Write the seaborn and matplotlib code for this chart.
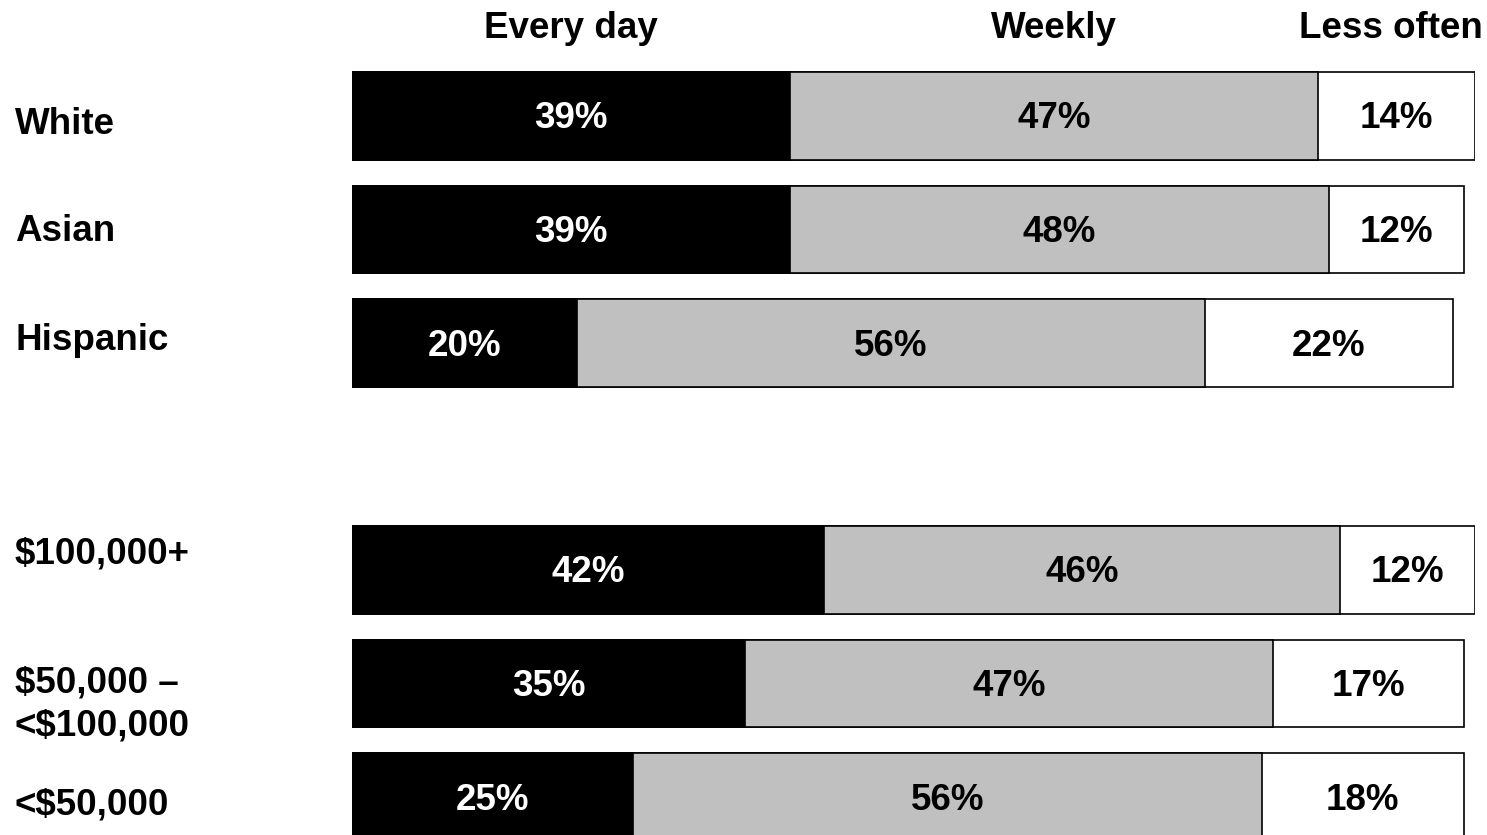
import numpy as np
import pandas as pd
import seaborn as sns
import matplotlib.pyplot as plt
from matplotlib import transforms

# data
groups = ["White", "Asian", "Hispanic", "$100,000+", "$50,000 –\n<$100,000", "<$50,000"]
every_day = [39, 39, 20, 42, 35, 25]
weekly = [47, 48, 56, 46, 47, 56]
less_often = [14, 12, 22, 12, 17, 18]
headers = ["Every day", "Weekly", "Less often"]

# positions with a gap between race and income groups
pos = [0, 1, 2, 4, 5, 6]

df = pd.DataFrame({"group": groups, "pos": pos,
                   "every": every_day, "weekly": weekly, "less": less_often})
df["cum1"] = df["every"]
df["cum2"] = df["every"] + df["weekly"]
df["cum3"] = df["cum2"] + df["less"]

sns.set_style("white")
plt.rcParams["font.family"] = ["Liberation Sans", "DejaVu Sans"]
plt.rcParams["font.weight"] = "bold"
plt.rcParams["text.color"] = "black"

W, H = 1487, 835
fig = plt.figure(figsize=(W / 100, H / 100), dpi=100)
ax = fig.add_axes([352 / W, 0, (1475 - 352) / W, (835 - 60) / H])

bw = 0.775
for col, color in [("cum3", "white"), ("cum2", "#c0c0c0"), ("cum1", "black")]:
    sns.barplot(data=df, x=col, y="pos", orient="h", native_scale=True,
                width=bw, color=color, edgecolor="black", linewidth=1.2,
                saturation=1, ax=ax)

unit = 113.5  # pixels per row
ax.set_xlim(0, 100)
ax.set_ylim((835 - 116) / unit, (60 - 116) / unit)
ax.axis("off")

fs = 26.5
dy = 3 / unit
for _, r in df.iterrows():
    y = r["pos"] + dy
    ax.text(r["every"] / 2, y, f"{r['every']}%", ha="center", va="center",
            color="white", fontsize=fs, fontweight="bold")
    ax.text(r["every"] + r["weekly"] / 2, y, f"{r['weekly']}%", ha="center",
            va="center", color="black", fontsize=fs, fontweight="bold")
    ax.text(r["cum2"] + r["less"] / 2, y, f"{r['less']}%", ha="center",
            va="center", color="black", fontsize=fs, fontweight="bold")

# row labels on the left (small nudges in pixels to match the original slide)
nudge = [8, 2, -3, -16, 21, 8]
trans = transforms.blended_transform_factory(fig.transFigure, ax.transData)
for (_, r), n in zip(df.iterrows(), nudge):
    ax.text(15 / W, r["pos"] + n / unit, r["group"], transform=trans, ha="left",
            va="center", fontsize=fs, fontweight="bold", linespacing=1.3,
            clip_on=False)

# column headers
hx = [df["every"].iloc[0] / 2, 62.5, 92.5]
for x, h in zip(hx, headers):
    ax.text(x, (29 - 116) / unit, h, ha="center", va="center", fontsize=fs,
            fontweight="bold", clip_on=False)

fig.savefig("out.png", dpi=100)
